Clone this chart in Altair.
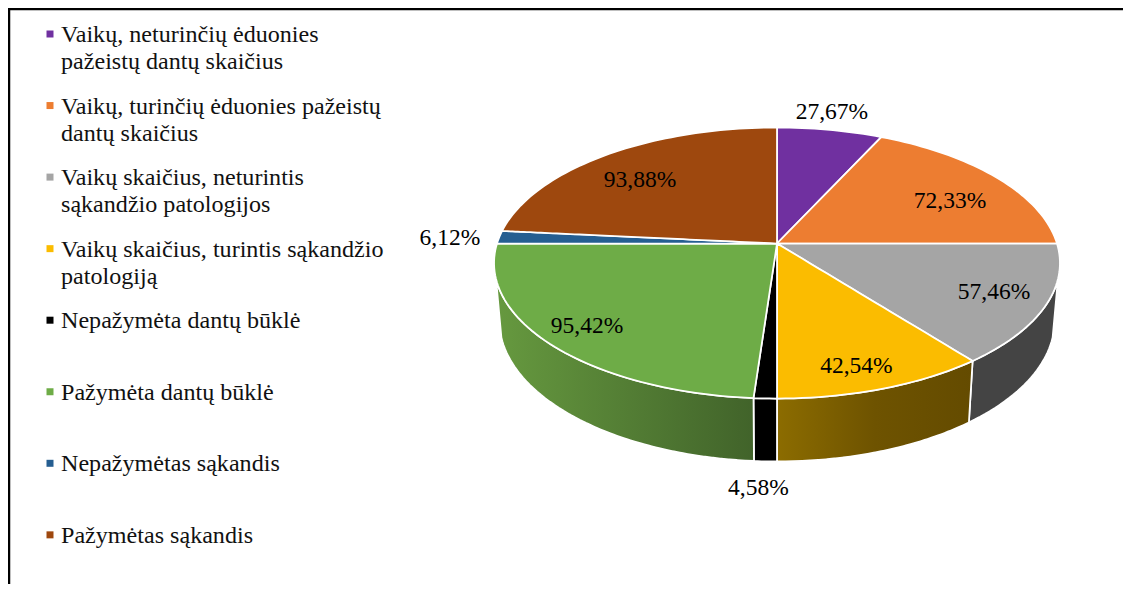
import math
import altair as alt
import pandas as pd

# ---- values ----
names = [
    "Vaikų, neturinčių ėduonies\npažeistų dantų skaičius",
    "Vaikų, turinčių ėduonies pažeistų\ndantų skaičius",
    "Vaikų skaičius, neturintis\nsąkandžio patologijos",
    "Vaikų skaičius, turintis sąkandžio\npatologiją",
    "Nepažymėta dantų būklė",
    "Pažymėta dantų būklė",
    "Nepažymėtas sąkandis",
    "Pažymėtas sąkandis",
]
values = [27.67, 72.33, 57.46, 42.54, 4.58, 95.42, 6.12, 93.88]
colors = ["#7030A0", "#ED7D31", "#A5A5A5", "#FBBC00", "#000000", "#6EAC47", "#255E91", "#9E480E"]
# label placement per slice: radial factor and angle shift in degrees
label_radius = [1.183, 0.732, 0.815, 0.85, 1.455, 0.845, 1.175, 0.732]
label_shift = [-1.3, 4.9, -0.4, 2.0, 0.0, 0.4, -0.9, -3.6]

# ---- tilted-disc geometry ----
W, H = 1115, 576
CX, TOP_Y, BOT_Y = 777.0, 243.5, 300.5
A_TOP, B_TOP, A_BOT, B_BOT = 280.0, 132.7, 274.7, 137.8
K = -0.144
WALL_FROM, WALL_TO = 105.0, 255.0


def rim(deg, r=1.0, a=A_TOP, b=B_TOP, y0=TOP_Y):
    t = math.radians(deg)
    u, v = r * math.sin(t), -r * math.cos(t)
    w = 1 + K * v
    return CX + a * u / w, y0 + b * v / w


def bottom(deg):
    return rim(deg, 1.0, A_BOT, B_BOT, BOT_Y)


def arc(f, start, end):
    n = max(2, int(abs(end - start) / 1.5) + 1)
    return [f(start + (end - start) * i / n) for i in range(n + 1)]


def spans(poly):
    xs = sorted({round(p[0], 3) for p in poly})
    out = []
    for x in xs:
        ys = []
        m = len(poly)
        for i in range(m):
            (x0, y0), (x1, y1) = poly[i], poly[(i + 1) % m]
            lo, hi = min(x0, x1), max(x0, x1)
            if lo - 1e-3 <= x <= hi + 1e-3:
                if abs(x1 - x0) < 1e-6:
                    ys += [y0, y1]
                else:
                    s = min(1.0, max(0.0, (x - x0) / (x1 - x0)))
                    ys.append(y0 + s * (y1 - y0))
        out.append((x, min(ys), max(ys)))
    return out


total = sum(values)
cum = [0.0]
for v in values:
    cum.append(cum[-1] + v)
angles = [c / total * 360 for c in cum]

slice_rows, label_rows = [], []
for i, n in enumerate(names):
    poly = [(CX, TOP_Y)] + arc(rim, angles[i], angles[i + 1])
    for x, y, y2 in spans(poly):
        slice_rows.append({"name": n, "x": x, "y": y, "y2": y2})
    mid = (angles[i] + angles[i + 1]) / 2 + label_shift[i]
    lx, ly = rim(mid, label_radius[i])
    label_rows.append({"x": lx, "y": ly, "text": f"{values[i]:.2f}".replace(".", ",") + "%"})


def wall(start, end):
    start, end = max(start, WALL_FROM), min(end, WALL_TO)
    poly = arc(rim, start, end) + arc(bottom, end, start)
    return pd.DataFrame([{"x": x, "y": y, "y2": y2} for x, y, y2 in spans(poly)])


xs = alt.Scale(domain=[8, 8 + W], nice=False, zero=False)
ys = alt.Scale(domain=[8 + H, 8], nice=False, zero=False)
X = alt.X("x:Q", scale=xs, axis=None)
Y = alt.Y("y:Q", scale=ys, axis=None, stack=None)
Y2 = alt.Y2("y2:Q")
color = alt.Color("name:N", scale=alt.Scale(domain=names, range=colors), legend=None)


def grad(*stops):
    n = len(stops) - 1
    return alt.LinearGradient(
        gradient="linear", x1=0, x2=1, y1=0, y2=0,
        stops=[alt.GradientStop(color=c, offset=i / n) for i, c in enumerate(stops)],
    )


wall_fills = {
    2: "#444444",
    3: grad("#8C6C00", "#6E5300", "#644B00"),
    4: "#000000",
    5: grad("#66993F", "#41632A"),
}
layers = []
for i, fill in wall_fills.items():
    layers.append(
        alt.Chart(wall(angles[i], angles[i + 1]))
        .mark_area(orient="vertical", fill=fill, stroke="white", strokeWidth=1.75)
        .encode(x=X, y=Y, y2=Y2)
    )

layers.append(
    alt.Chart(pd.DataFrame(slice_rows))
    .mark_area(orient="vertical", stroke="white", strokeWidth=1.75, opacity=1)
    .encode(x=X, y=Y, y2=Y2, color=color)
)
layers.append(
    alt.Chart(pd.DataFrame(label_rows))
    .mark_text(font="Liberation Serif", fontSize=23.5, color="black", align="center", baseline="middle")
    .encode(x=X, y=Y, text="text:N")
)

# legend
legend_rows = [
    {"name": n, "x": 50.0, "y": 34.0 + 71.55 * i, "tx": 61.0, "ty": 42.0 + 71.55 * i}
    for i, n in enumerate(names)
]
legend = pd.DataFrame(legend_rows)
layers.append(
    alt.Chart(legend)
    .mark_square(size=49, opacity=1, filled=True)
    .encode(x=X, y=Y, color=color)
)
layers.append(
    alt.Chart(legend)
    .mark_text(font="Liberation Serif", fontSize=24.1, color="#111111", align="left",
               baseline="alphabetic", lineBreak="\n", lineHeight=27)
    .encode(x=alt.X("tx:Q", scale=xs, axis=None), y=alt.Y("ty:Q", scale=ys, axis=None), text="name:N")
)

# frame: left and top edges of the picture
frame = pd.DataFrame([{"x": 8.0, "x2": 8.0 + W, "y": 9.0}])
layers.append(
    alt.Chart(frame).mark_rule(color="black", strokeWidth=2.5)
    .encode(x=X, x2=alt.X2("x2:Q"), y=alt.Y("y:Q", scale=ys, axis=None))
)
frame2 = pd.DataFrame([{"x": 9.0, "y": 8.0, "y2": 8.0 + H}])
layers.append(
    alt.Chart(frame2).mark_rule(color="black", strokeWidth=2.5)
    .encode(x=X, y=alt.Y("y:Q", scale=ys, axis=None), y2=Y2)
)

chart = (
    alt.layer(*layers)
    .properties(width=W, height=H, padding=0, background="white",
                autosize=alt.AutoSizeParams(type="none"))
    .configure_view(stroke=None)
)
chart.save("out.html", embed_options={"renderer": "svg", "actions": False})
